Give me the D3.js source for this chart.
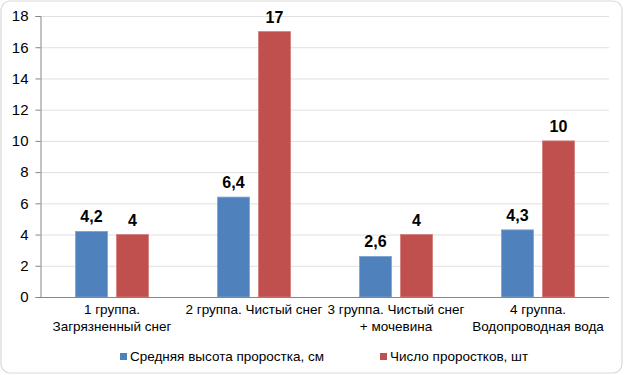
<!DOCTYPE html>
<html>
<head>
<meta charset="utf-8">
<script src="https://cdn.jsdelivr.net/npm/d3@7"></script>
<style>
  body { margin: 0; background: #fff; }
  text { font-family: "Liberation Sans", Arial, sans-serif; }
</style>
</head>
<body>
<main></main>
<script>
var width = 624;
var height = 375;

var categories = ["1 группа.|Загрязненный снег", "2 группа. Чистый снег", "3 группа. Чистый снег|+ мочевина", "4 группа.|Водопроводная вода"];
var seriesNames = ["Средняя высота проростка, см", "Число проростков, шт"];
var heightVals = [4.2, 6.4, 2.6, 4.3];
var countVals = [4, 17, 4, 10];
var yTicks = [0, 2, 4, 6, 8, 10, 12, 14, 16, 18];
var colors = ["#4F81BD", "#C0504D"];

var margin = { left: 41, right: 15, top: 16, bottom: 78 };

var svg = d3.select("main").append("svg")
    .attr("width", width)
    .attr("height", height);

svg.append("rect")
    .attr("x", 1).attr("y", 1)
    .attr("width", width - 3).attr("height", height - 3)
    .attr("rx", 9)
    .attr("fill", "#fff")
    .attr("stroke", "#d9d9d9")
    .attr("stroke-width", 1.2);

var x = d3.scaleBand()
    .domain(categories)
    .range([margin.left, width - margin.right]);

var y = d3.scaleLinear()
    .domain([0, 18])
    .range([height - margin.bottom, margin.top]);

// gridlines
svg.append("g").selectAll("line")
    .data(yTicks.slice(1))
    .enter().append("line")
    .attr("x1", margin.left).attr("x2", width - margin.right)
    .attr("y1", d => y(d) + 0.5).attr("y2", d => y(d) + 0.5)
    .attr("stroke", "#e0e0e0");

// y axis
var yAxis = svg.append("g")
    .attr("transform", "translate(" + (margin.left - 0.5) + ",0)")
    .call(d3.axisLeft(y).tickValues(yTicks).tickSize(5).tickFormat(d3.format("d")));
yAxis.select(".domain").attr("stroke", "#868686");
yAxis.selectAll(".tick line").attr("stroke", "#868686");
yAxis.selectAll(".tick text")
    .attr("x", -12)
    .attr("font-size", 15)
    .attr("fill", "#000")
    .style("font-family", "Liberation Sans, Arial, sans-serif");

var inner = d3.scaleBand()
    .domain([0, 1])
    .range([0, x.bandwidth()])
    .paddingInner(0.22)
    .paddingOuter(0.84);

var rows = categories.map((c, i) => [heightVals[i], countVals[i]]);

var groups = svg.append("g").selectAll("g")
    .data(rows)
    .enter().append("g")
    .attr("transform", (d, i) => "translate(" + x(categories[i]) + ",0)");

groups.selectAll("rect")
    .data(d => d)
    .enter().append("rect")
    .attr("x", (d, j) => inner(j))
    .attr("y", d => y(d))
    .attr("width", inner.bandwidth())
    .attr("height", d => y(0) - y(d))
    .attr("fill", (d, j) => colors[j])
    .attr("stroke", (d, j) => j === 0 ? "#7ea3d3" : "#d47d7b")
    .attr("stroke-width", 0.8);

groups.selectAll("text")
    .data(d => d)
    .enter().append("text")
    .attr("x", (d, j) => inner(j) + inner.bandwidth() / 2)
    .attr("y", d => y(d) - 9)
    .attr("text-anchor", "middle")
    .attr("font-size", 16)
    .attr("font-weight", "bold")
    .text(d => String(d).replace(".", ","));

// x axis
svg.append("line")
    .attr("x1", margin.left).attr("x2", width - margin.right)
    .attr("y1", y(0) + 0.5).attr("y2", y(0) + 0.5)
    .attr("stroke", "#868686");

var xl = svg.append("g").selectAll("text")
    .data(categories)
    .enter().append("text")
    .attr("x", d => x(d) + x.bandwidth() / 2)
    .attr("y", y(0) + 17)
    .attr("text-anchor", "middle")
    .attr("font-size", 13.5)
    .attr("fill", "#000");
xl.each(function(d) {
    var parts = d.split("|");
    var t = d3.select(this);
    parts.forEach((p, k) => {
        t.append("tspan")
            .attr("x", x(d) + x.bandwidth() / 2)
            .attr("dy", k === 0 ? 0 : 17)
            .text(p);
    });
});

// legend
var legendX = [120, 380];
var leg = svg.append("g").selectAll("g")
    .data(seriesNames)
    .enter().append("g")
    .attr("transform", (d, i) => "translate(" + legendX[i] + ",353)");
leg.append("rect")
    .attr("width", 7).attr("height", 7)
    .attr("fill", (d, i) => colors[i]);
leg.append("text")
    .attr("x", 10).attr("y", 8)
    .attr("font-size", 13.5)
    .text(d => d);
</script>
</body>
</html>
